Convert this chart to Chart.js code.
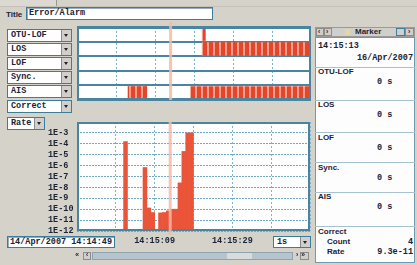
<!DOCTYPE html>
<html><head><meta charset="utf-8">
<script src="https://cdn.jsdelivr.net/npm/chart.js@4"></script>
<style>
html,body{margin:0;padding:0;}
body{width:417px;height:265px;background:#d5d2ca;position:relative;overflow:hidden;}
.a{position:absolute;box-sizing:border-box;}
.mono{font-family:"Liberation Mono",monospace;font-weight:bold;font-size:8.5px;color:#1b2335;white-space:nowrap;}
.sans{font-family:"Liberation Sans",Arial,sans-serif;font-weight:bold;font-size:8px;color:#1b2335;white-space:nowrap;}
.inp{background:#fff;border:1px solid #3e7d9a;box-shadow:inset 1px 1px 0 #9ab;}
.dd{background:#fff;border:1px solid #3e7d9a;height:13px;line-height:11px;padding-left:3px;}
.arr{position:absolute;right:0;top:0;width:9px;height:11px;background:#d0cfcb;border-left:1px solid #8c8c8c;}
.arr:after{content:"";position:absolute;left:2px;top:4px;border-left:2px solid transparent;border-right:2px solid transparent;border-top:3px solid #222;}
.btn{background:#d0cfcb;border:1px solid #8c8c8c;}
.sep{position:absolute;left:0;width:100%;height:1px;background:#a7c2cf;}
canvas{position:absolute;}
</style>
</head><body>
<div class="a" style="left:0;top:0;width:57px;height:6px;background:#dcd9d2;border-right:1px solid #9a978f;"></div>
<div class="a" style="left:0;top:6px;width:417px;height:1px;background:#c4c1b9;"></div>
<div class="a sans" style="left:6px;top:9px;line-height:12px;">Title</div>
<div class="a inp mono" id="title" style="left:26px;top:7px;width:187px;height:13px;line-height:11px;padding-left:2px;"></div>

<div id="dds"></div>

<canvas id="strips" width="234" height="80" style="left:77px;top:21px;"></canvas>
<canvas id="rate" width="267" height="140" style="left:48px;top:112px;"></canvas>

<div class="a inp mono" id="startBox" style="left:7px;top:236px;width:108px;height:12px;line-height:10px;padding-left:2px;"></div>
<div class="a dd mono" id="resBox" style="left:273px;top:236px;width:38px;height:12px;line-height:10px;"><span></span><div class="arr" style="height:10px"></div></div>

<!-- scrollbar -->
<div class="a mono" style="left:75px;top:251px;font-size:7px;line-height:9px;">&laquo;</div>
<div class="a btn" style="left:83px;top:252px;width:8px;height:8px;"></div>
<div class="a mono" style="left:85px;top:251px;font-size:7px;line-height:9px;">&lsaquo;</div>
<div class="a" style="left:92px;top:252px;width:201px;height:8px;background:#b6c4cd;border:1px solid #8fa3ae;"></div>
<div class="a" style="left:227px;top:253px;width:25px;height:6px;background:#d9dcdc;"></div>
<div class="a mono" style="left:295px;top:251px;font-size:7px;line-height:9px;">&rsaquo;</div>
<div class="a btn" style="left:300px;top:252px;width:9px;height:8px;"></div>
<div class="a mono" style="left:301px;top:251px;font-size:7px;line-height:9px;">&raquo;</div>

<!-- right panel -->
<div class="a" id="panel" style="left:315px;top:27px;width:100px;height:236px;">
  <div class="a" style="left:0;top:0;width:100px;height:10px;background:#d0cfcb;border:1px solid #9a9a9a;"></div>
  <div class="a btn" style="left:1px;top:1px;width:8px;height:8px;"></div>
  <div class="a btn" style="left:9px;top:1px;width:8px;height:8px;"></div>
  <div class="a mono" style="left:2px;top:0px;font-size:7px;line-height:10px;">&lsaquo;</div>
  <div class="a mono" style="left:10px;top:0px;font-size:7px;line-height:10px;">&rsaquo;</div>
  <div class="a" style="left:30px;top:2px;width:5px;height:6px;background:#e8d79a;"></div>
  <div class="a sans" id="markerTitle" style="left:40px;top:0px;line-height:10px;"></div>
  <div class="a btn" style="left:81px;top:1px;width:9px;height:8px;border-color:#3e7d9a;"></div>
  <div class="a btn" style="left:90px;top:1px;width:9px;height:8px;"></div>
  <div class="a mono" style="left:92px;top:0px;font-size:7px;line-height:10px;">&rsaquo;</div>
  <div class="a" id="pbody" style="left:0;top:10px;width:100px;height:226px;background:#fdfdfd;border:1px solid #6e9bb0;"></div>
</div>

<script>
// ---------- data ----------
const rowNames = ['OTU-LOF','LOS','LOF','Sync.','AIS'];
const otuLofOn = [[32,33]];
const losOn    = [[32,60]];
const lofOn    = [];
const syncOn   = [];
const aisOn    = [[13,18],[29,60]];
const windowSeconds = [0,60];

const rateSeconds = [12, 17, 18, 19, 21, 22, 23, 24, 25, 26, 27, 28, 29];
const rateValues  = [1.6e-4, 6.7e-7, 1.3e-10, 5e-11, 4.6e-11, 5e-11, 7e-11, 1e-10, 1e-10, 2.6e-8, 2e-5, 1e-3, 1e-3];
const rateRange = [1e-12, 1e-2];
const rateTickValues = [1e-3,1e-4,1e-5,1e-6,1e-7,1e-8,1e-9,1e-10,1e-11,1e-12];
const rateTickLabels = ['1E-3','1E-4','1E-5','1E-6','1E-7','1E-8','1E-9','1E-10','1E-11','1E-12'];
const timeTickSeconds = [20, 40];
const timeTickLabels = ['14:15:09','14:15:29'];
const markerSecond = 24;

const titleText = 'Error/Alarm';
const startLabel = '14/Apr/2007 14:14:49';
const resolutionLabel = '1s';
const markerTime = '14:15:13';
const markerDate = '16/Apr/2007';
const summaryNames = ['OTU-LOF','LOS','LOF','Sync.','AIS'];
const summaryDurations = ['0 s','0 s','0 s','0 s','0 s'];
const correctCount = '4';
const correctRate = '9.3e-11';

// ---------- static UI text ----------
document.getElementById('title').textContent = titleText;
document.getElementById('startBox').textContent = startLabel;
document.querySelector('#resBox span').textContent = resolutionLabel;
document.getElementById('markerTitle').textContent = 'Marker';

const dds = document.getElementById('dds');
function dropdown(text, x, y, w){
  const d = document.createElement('div');
  d.className = 'a dd mono'; d.style.left = x+'px'; d.style.top = y+'px'; d.style.width = w+'px';
  d.textContent = text;
  const a = document.createElement('div'); a.className='arr'; d.appendChild(a);
  dds.appendChild(d);
}
rowNames.forEach((n,i)=>dropdown(n, 7, 29 + i*14, 65));
dropdown('Correct', 7, 100, 65);
dropdown('Rate', 7, 117, 38);

const panel = document.getElementById('panel');
function ptext(cls, text, x, cy){
  const d = document.createElement('div');
  d.className = 'a ' + cls; d.textContent = text;
  d.style.top = (cy - 27 - 5) + 'px'; d.style.lineHeight = '10px';
  d.style.left = (x - 315) + 'px';
  panel.appendChild(d); return d;
}
function prtext(cls, text, rx, cy){
  const d = document.createElement('div');
  d.className = 'a ' + cls; d.textContent = text;
  d.style.top = (cy - 27 - 5) + 'px'; d.style.lineHeight = '10px';
  d.style.right = (415 - rx) + 'px';
  panel.appendChild(d); return d;
}
[67,100,132,162,192,226].forEach(y=>{
  const s = document.createElement('div'); s.className='sep'; s.style.top=(y-27)+'px'; panel.appendChild(s);
});
ptext('mono', markerTime, 318, 46);
prtext('mono', markerDate, 413, 58);
const nameY = [72,105,138,168,197];
summaryNames.forEach((n,i)=>{
  ptext('sans', n, 318, nameY[i]);
  ptext('mono', summaryDurations[i], 377, nameY[i]+10);
});
ptext('sans', 'Correct', 318, 232);
ptext('sans', 'Count', 327, 242);
prtext('mono', correctCount, 413, 242);
ptext('sans', 'Rate', 327, 252);
prtext('mono', correctRate, 413, 252);

// ---------- plugins ----------
const bgPlugin = { id:'bg', beforeDraw(chart){
  const a = chart.chartArea, ctx = chart.ctx;
  ctx.save(); ctx.fillStyle = '#ffffff'; ctx.fillRect(a.left, a.top, a.width, a.height); ctx.restore();
}};
const framePlugin = { id:'frame', afterDatasetsDraw(chart){
  const a = chart.chartArea, ctx = chart.ctx;
  ctx.save(); ctx.strokeStyle = '#4a85a0'; ctx.lineWidth = 2;
  ctx.strokeRect(a.left+1, a.top+1, a.width-2, a.height-2); ctx.restore();
}};
const markerPlugin = { id:'marker', afterDraw(chart, args, opts){
  const a = chart.chartArea, ctx = chart.ctx;
  const x = chart.scales.x.getPixelForValue(markerSecond);
  ctx.save(); ctx.strokeStyle = 'rgba(247,186,165,0.85)'; ctx.lineWidth = 3;
  ctx.beginPath(); ctx.moveTo(x, opts.top != null ? opts.top : a.top); ctx.lineTo(x, a.bottom + (opts.extra || 0)); ctx.stroke(); ctx.restore();
}};

function stripePattern(ctx){
  const c = document.createElement('canvas'); c.width = 6; c.height = 1;
  const g = c.getContext('2d');
  g.fillStyle = '#e5452a'; g.fillRect(0,0,6,1);
  g.fillStyle = '#f3a08b'; g.fillRect(4,0,2,1);
  return ctx.createPattern(c, 'repeat');
}

const tickFont = { family:'"Liberation Mono", monospace', size:8.5, weight:'bold' };

// ---------- state strips ----------
const rowIntervals = [otuLofOn, losOn, lofOn, syncOn, aisOn];
const maxIv = Math.max(...rowIntervals.map(r=>r.length));
const sctx = document.getElementById('strips').getContext('2d');
const stripe = stripePattern(sctx);
const stripDatasets = [];
for (let j=0; j<maxIv; j++){
  stripDatasets.push({
    data: rowIntervals.map(r => r[j] ? r[j] : null),
    backgroundColor: stripe, borderWidth: 0,
    barPercentage: 1, categoryPercentage: 0.9, grouped: false
  });
}
new Chart(sctx, {
  type:'bar',
  data:{ labels: rowNames, datasets: stripDatasets },
  options:{
    indexAxis:'y', responsive:false, animation:false, devicePixelRatio:1,
    layout:{ padding:{ top:6, bottom:1, left:0, right:0 } },
    plugins:{ legend:{display:false}, tooltip:{enabled:false}, marker:{ top:1, extra:0 } },
    scales:{
      x:{ type:'linear', min:windowSeconds[0], max:windowSeconds[1], offset:false,
          ticks:{ display:false, stepSize:10 },
          grid:{ color:'#7db4d0', lineWidth:1, drawTicks:false },
          border:{ display:false, dash:[2,2] },
          afterFit(s){ s.height = 0; } },
      y:{ type:'category', offset:true,
          ticks:{ display:false },
          grid:{ offset:true, color:'#4a85a0', lineWidth:2, drawTicks:false },
          border:{ display:false },
          afterFit(s){ s.width = 0; } }
    }
  },
  plugins:[bgPlugin, framePlugin, markerPlugin]
});

// ---------- rate chart ----------
function labelFor(v){
  const i = rateTickValues.findIndex(t => Math.abs(Math.log10(t) - Math.log10(v)) < 1e-6);
  return i >= 0 ? rateTickLabels[i] : '';
}
new Chart(document.getElementById('rate'), {
  type:'bar',
  data:{ datasets:[{
    data: rateSeconds.map((s,i)=>({ x: s + 0.5, y: rateValues[i] })),
    backgroundColor:'#ea553a', borderWidth:0, barPercentage:1, categoryPercentage:1
  }]},
  options:{
    responsive:false, animation:false, devicePixelRatio:1,
    layout:{ padding:{ top:10, right:4, left:0, bottom:0 } },
    plugins:{ legend:{display:false}, tooltip:{enabled:false}, marker:{ extra:4 } },
    scales:{
      x:{ type:'linear', min:windowSeconds[0], max:windowSeconds[1], offset:false,
          grid:{ offset:false, color:'#7db4d0', lineWidth:1, drawTicks:false },
          border:{ display:false, dash:[2,2] },
          ticks:{ stepSize:10, autoSkip:false, maxRotation:0, padding:5, font:tickFont, color:'#1b2335',
                  callback(v){ const i = timeTickSeconds.indexOf(v); return i>=0 ? timeTickLabels[i] : ''; } },
          afterFit(s){ s.height = 21; } },
      y:{ type:'logarithmic', min:rateRange[0], max:rateRange[1],
          afterBuildTicks(s){ s.ticks = rateTickValues.map(v=>({ value:v })); },
          grid:{ color:'#6fa9c6', lineWidth:1, drawTicks:false },
          border:{ display:false, dash:[2,1] },
          ticks:{ autoSkip:false, crossAlign:'far', padding:0, font:tickFont, color:'#1b2335', callback:labelFor },
          afterFit(s){ s.width = 29; } }
    }
  },
  plugins:[bgPlugin, framePlugin, markerPlugin]
});
</script>
</body></html>
